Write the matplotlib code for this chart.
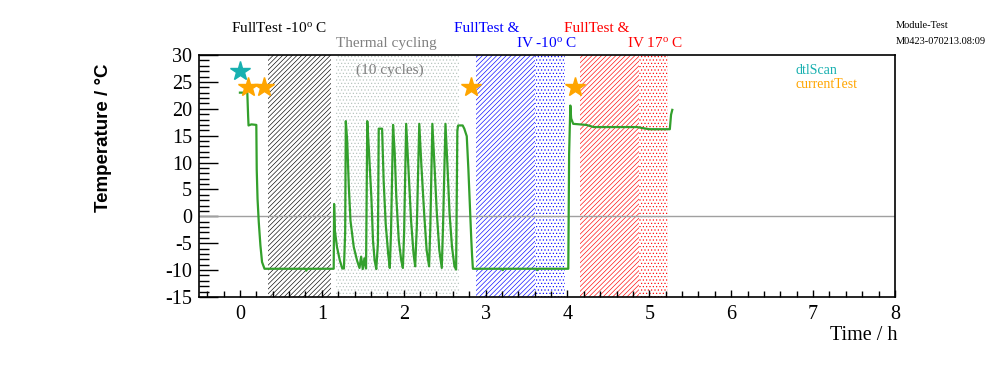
import numpy as np
import matplotlib
matplotlib.use("Agg")
import matplotlib.pyplot as plt
from matplotlib.ticker import MultipleLocator

plt.rcParams['font.family'] = ['Liberation Serif', 'DejaVu Serif']
plt.rcParams['mathtext.fontset'] = 'custom'
plt.rcParams['mathtext.rm'] = 'Liberation Serif'
plt.rcParams['mathtext.it'] = 'Liberation Serif:italic'
plt.rcParams['axes.unicode_minus'] = False
plt.rcParams['hatch.linewidth'] = 0.45

# temperature log (hours, deg C)
time_h = [0.00, 0.09, 0.10, 0.105, 0.14, 0.20, 0.205, 0.215, 0.23, 0.25, 0.27, 0.30,
          0.80, 0.81, 0.82, 1.145,
          1.15, 1.16, 1.185, 1.22, 1.25, 1.27, 1.285, 1.293, 1.31, 1.33, 1.35, 1.39,
          1.43, 1.46, 1.48, 1.50, 1.52, 1.54, 1.555, 1.575, 1.605, 1.625, 1.645, 1.665,
          1.685, 1.695, 1.736, 1.755, 1.78, 1.81, 1.83, 1.845, 1.87, 1.89, 1.91, 1.94,
          1.97, 1.99, 2.005, 2.03, 2.055, 2.09, 2.12, 2.14, 2.16, 2.19, 2.215, 2.25,
          2.28, 2.31, 2.325, 2.35, 2.375, 2.405, 2.435, 2.465, 2.48, 2.51, 2.53, 2.56,
          2.59, 2.62, 2.64, 2.655, 2.665, 2.72, 2.74, 2.77, 2.79, 2.81, 2.825, 2.835, 2.845,
          3.20, 3.21, 3.22, 3.62, 3.63, 3.64, 4.01, 4.02, 4.035, 4.045, 4.07, 4.23,
          4.32, 4.85, 4.92, 5.00, 5.25, 5.265, 5.28]
temp_c = [23.0, 23.0, 18.6, 16.9, 17.1, 17.0, 8.7, 3.2, -1.1, -5.4, -8.5, -9.75,
          -9.75, -10.1, -9.75, -9.75,
          2.3, -2.7, -5.7, -8.2, -9.7, -9.7, -3.0, 17.7, 14.0, 5.4, -0.8, -5.7,
          -8.2, -9.6, -7.5, -9.8, -7.8, -9.7, 17.7, 12.3, 3.5, -4.5, -8.2, -9.8,
          -5.0, 16.3, 16.3, 6.6, -1.4, -6.9, -9.6, -3.0, 17.0, 11.8, 3.5, -4.5,
          -8.2, -9.6, -3.0, 17.2, 9.7, -0.8, -6.9, -9.3, -2.0, 17.2, 9.7, 0.5,
          -6.3, -9.3, -2.0, 17.2, 9.7, 0.5, -6.3, -9.6, -2.0, 17.2, 10.8, 0.5,
          -5.7, -9.3, -9.9, 16.0, 16.9, 16.9, 16.3, 14.9, 8.7, 1.3, -4.2, -7.3, -9.75,
          -9.75, -10.0, -9.75, -9.75, -10.0, -9.75, -9.75, 11.5, 20.6, 18.2, 17.2, 17.0,
          16.6, 16.6, 16.4, 16.2, 16.2, 18.9, 19.8]

# test markers
dtl_t = [0.0]
dtl_y = [27.0]
cur_t = [0.10, 0.29, 2.82, 4.09]
cur_y = [24.0, 24.0, 24.0, 24.0]

# shaded periods (start, end)
ft_cold = (0.34, 1.11)
cycling = (1.17, 2.67)
iv_cold = (2.88, 3.60, 3.97)
iv_warm = (4.15, 4.87, 5.23)

W, H = 996, 372
fig = plt.figure(figsize=(W / 100, H / 100), dpi=100)
ax = fig.add_axes([199 / W, 1 - 297 / H, 696 / W, 242 / H])

diag = '/' * 7
dots = '.' * 5
ax.axvspan(*ft_cold, facecolor='none', edgecolor='black', hatch=diag, lw=0)
ax.axvspan(*cycling, facecolor='none', edgecolor='#b4c2bc', hatch=dots, lw=0)
ax.axvspan(iv_cold[0], iv_cold[1], facecolor='none', edgecolor='blue', hatch=diag, lw=0)
ax.axvspan(iv_cold[1], iv_cold[2], facecolor='none', edgecolor='blue', hatch=dots, lw=0)
ax.axvspan(iv_warm[0], iv_warm[1], facecolor='none', edgecolor='red', hatch=diag, lw=0)
ax.axvspan(iv_warm[1], iv_warm[2], facecolor='none', edgecolor='red', hatch=dots, lw=0)

ax.axhline(0, color='#a0a0a0', lw=1)
ax.plot(time_h, temp_c, color='#33a02c', lw=1.6)
ax.plot(dtl_t, dtl_y, ls='none', marker='*', ms=15, color='#18b0b0')
ax.plot(cur_t, cur_y, ls='none', marker='*', ms=15, color='#ffa500')

ax.set_xlim(-0.5, 8)
ax.set_ylim(-15, 30)
ax.xaxis.set_major_locator(MultipleLocator(1))
ax.xaxis.set_minor_locator(MultipleLocator(0.2))
ax.yaxis.set_major_locator(MultipleLocator(5))
ax.yaxis.set_minor_locator(MultipleLocator(1))
ax.tick_params(which='both', direction='in', top=False, right=False, labelsize=14.5)
ax.tick_params(axis='y', which='major', length=14, width=1, pad=5)
ax.tick_params(axis='y', which='minor', length=7, width=1)
ax.tick_params(axis='x', which='major', length=5, width=1, pad=6)
ax.tick_params(axis='x', which='minor', length=4, width=1)
for s in ax.spines.values():
    s.set_linewidth(1.2)

ax.text(1.83, 27.2, '(10 cycles)', color='#808080', fontsize=11, ha='center', va='center')

def ftext(x, y, s, **kw):
    fig.text(x / W, 1 - y / H, s, **kw)

ftext(279, 28, r'FullTest -10$^{\rm o}$ C', fontsize=11, ha='center', va='center')
ftext(386, 44, 'Thermal cycling', fontsize=11, color='#808080', ha='center', va='center')
ftext(487, 28, 'FullTest &', fontsize=11, color='blue', ha='center', va='center')
ftext(547, 43, r'IV -10$^{\rm o}$ C', fontsize=11, color='blue', ha='center', va='center')
ftext(597, 28, 'FullTest &', fontsize=11, color='red', ha='center', va='center')
ftext(655, 43, r'IV 17$^{\rm o}$ C', fontsize=11, color='red', ha='center', va='center')
ftext(896, 25, 'Module-Test', fontsize=7.5, ha='left', va='center')
ftext(896, 41, 'M0423-070213.08:09', fontsize=7.5, ha='left', va='center')
ftext(796, 70, 'dtlScan', fontsize=10, color='#18b0b0', ha='left', va='center')
ftext(796, 85, 'currentTest', fontsize=10, color='#ffa500', ha='left', va='center')
ftext(897, 336, 'Time / h', fontsize=14.5, ha='right', va='center')
ftext(103, 138, 'Temperature / °C', fontsize=13.5, fontweight='bold',
      family=['Liberation Sans', 'DejaVu Sans'], rotation=90, ha='center', va='center')

fig.savefig('out.png', dpi=100)
